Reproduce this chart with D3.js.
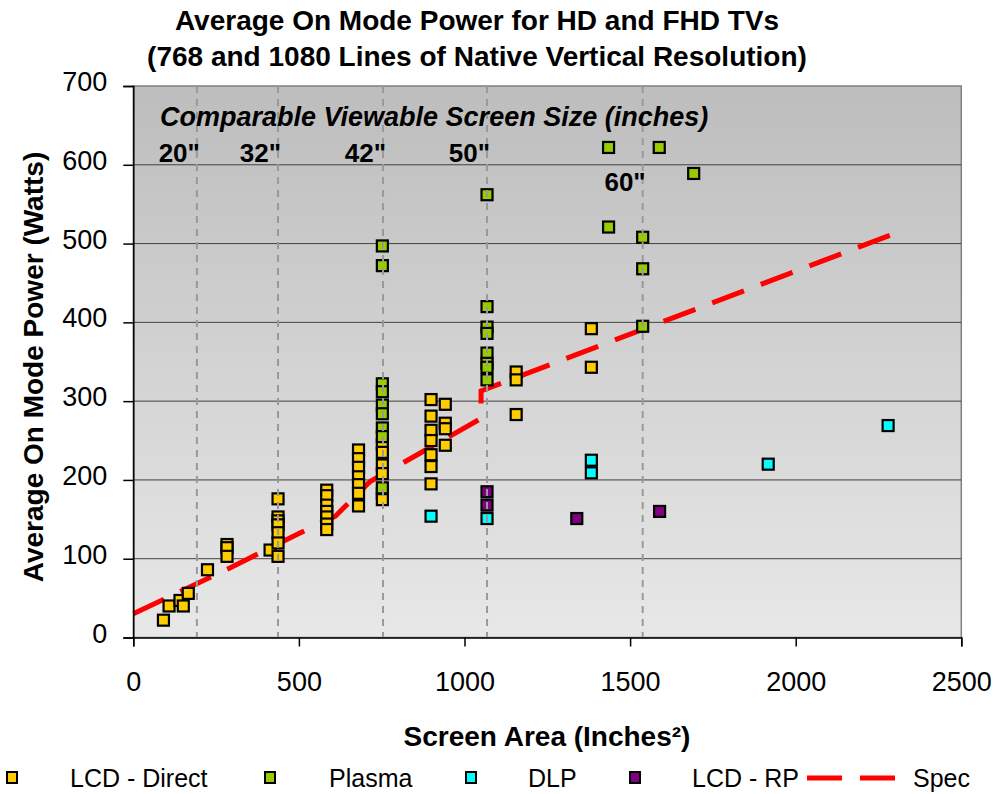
<!DOCTYPE html>
<html>
<head>
<meta charset="utf-8">
<script src="https://cdn.jsdelivr.net/npm/d3@7"></script>
<style>
  body { margin: 0; background: #fff; }
  svg { font-family: "Liberation Sans", Arial, sans-serif; }
</style>
</head>
<body>
<svg id="chart" width="999" height="794"></svg>
<script>
// screen area (in^2) -> on mode power (W)
const lcdDirect = [
  [91, 22], [108, 40], [141, 47], [151, 40], [166, 56], [224, 86],
  [283, 118], [283, 114], [283, 103],
  [413, 111],
  [437, 176], [437, 153], [437, 148], [437, 143], [437, 133], [437, 120], [437, 103],
  [584, 187], [584, 180], [584, 168], [584, 160], [584, 153], [584, 144], [584, 137],
  [680, 238], [680, 227], [680, 216], [680, 204], [680, 194], [680, 183], [680, 167],
  [752, 245], [752, 235], [752, 219], [752, 208], [752, 183], [752, 175],
  [899, 302], [899, 281], [899, 263], [899, 250], [899, 232], [899, 217], [899, 195],
  [942, 296], [942, 272], [942, 265], [942, 244],
  [1156, 337], [1156, 327], [1156, 283],
  [1383, 392], [1383, 343]
];
const plasma = [
  [752, 497], [752, 472], [752, 322], [752, 312], [752, 295], [752, 284], [752, 266], [752, 255], [752, 190],
  [1068, 562], [1068, 420], [1068, 394], [1068, 386], [1068, 361], [1068, 348], [1068, 343], [1068, 327],
  [1435, 622], [1435, 521],
  [1538, 508], [1538, 468], [1538, 395],
  [1588, 622], [1692, 589]
];
const dlp = [[899, 154], [1068, 151], [1383, 225], [1383, 209], [1917, 220], [2279, 269]];
const lcdRp = [[1068, 185], [1068, 168], [1339, 151], [1589, 160]];
const spec = [[0, 30], [290, 88], [500, 132], [610, 154], [715, 198], [1050, 278], [1050, 313], [2325, 517]];

const sizeLines = [192, 437, 754, 1068, 1538];
const sizeLabels = ['20"', '32"', '42"', '50"', '60"'];
const xTicks = [0, 500, 1000, 1500, 2000, 2500];
const yTicks = [0, 100, 200, 300, 400, 500, 600, 700];

const series = [
  { name: "LCD - Direct", data: lcdDirect, color: "#ffcc00" },
  { name: "Plasma", data: plasma, color: "#99cc00" },
  { name: "DLP", data: dlp, color: "#00ffff" },
  { name: "LCD - RP", data: lcdRp, color: "#800080" }
];

const svg = d3.select("#chart");
const x = d3.scaleLinear().domain([0, 2500]).range([133.3, 961.3]);
const y = d3.scaleLinear().domain([0, 700]).range([637.5, 86]);

// plot background gradient
const grad = svg.append("defs").append("linearGradient")
  .attr("id", "bg").attr("x1", 0).attr("y1", 0).attr("x2", 0).attr("y2", 1);
grad.append("stop").attr("offset", "0%").attr("stop-color", "#bdbdbd");
grad.append("stop").attr("offset", "100%").attr("stop-color", "#e8e8e8");

svg.append("rect")
  .attr("x", x(0)).attr("y", y(700))
  .attr("width", x(2500) - x(0)).attr("height", y(0) - y(700))
  .attr("fill", "url(#bg)").attr("stroke", "#808080").attr("stroke-width", 1.5);

// horizontal gridlines
svg.append("g").selectAll("line")
  .data(yTicks.filter(d => d > 0 && d < 700))
  .join("line")
  .attr("x1", x(0)).attr("x2", x(2500))
  .attr("y1", d => y(d)).attr("y2", d => y(d))
  .attr("stroke", "#404040").attr("stroke-width", 1);

// spec line
const line = d3.line().x(d => x(d[0])).y(d => y(d[1]));
svg.append("path")
  .datum(spec)
  .attr("d", line)
  .attr("fill", "none")
  .attr("stroke", "#ff0000")
  .attr("stroke-width", 5)
  .attr("stroke-dasharray", "34,18");

// markers
const ms = 11;
series.forEach(s => {
  svg.append("g").selectAll("rect")
    .data(s.data)
    .join("rect")
    .attr("x", d => x(d[0]) - ms / 2)
    .attr("y", d => y(d[1]) - ms / 2)
    .attr("width", ms).attr("height", ms)
    .attr("fill", s.color)
    .attr("stroke", "#000").attr("stroke-width", 2.2);
});

// comparable screen size lines
svg.append("g").selectAll("line")
  .data(sizeLines)
  .join("line")
  .attr("x1", d => x(d)).attr("x2", d => x(d))
  .attr("y1", y(700)).attr("y2", y(0))
  .attr("stroke", "#999").attr("stroke-width", 2)
  .attr("stroke-dasharray", "7,6");

svg.append("text")
  .attr("x", 160).attr("y", 126)
  .attr("font-size", 27).attr("font-weight", "bold").attr("font-style", "italic")
  .text("Comparable Viewable Screen Size (inches)");

svg.append("g").selectAll("text")
  .data(sizeLabels)
  .join("text")
  .attr("x", (d, i) => x(sizeLines[i]) + 3)
  .attr("y", (d, i) => i === 4 ? 191 : 162)
  .attr("text-anchor", "end")
  .attr("font-size", 26).attr("font-weight", "bold")
  .text(d => d);

// axes
const yAxis = svg.append("g")
  .attr("transform", `translate(${x(0)},0)`)
  .call(d3.axisLeft(y).tickValues(yTicks).tickSize(10).tickPadding(16).tickFormat(d3.format("d")));
yAxis.selectAll("text").attr("font-size", 27).attr("dy", "0.32em").attr("y", -4)
  .attr("font-family", "Liberation Sans, Arial, sans-serif");

const xAxis = svg.append("g")
  .attr("transform", `translate(0,${y(0)})`)
  .call(d3.axisBottom(x).tickValues(xTicks).tickSize(9).tickFormat(d3.format("d")));
xAxis.selectAll("text").attr("font-size", 27).attr("dy", 0).attr("y", 53.5)
  .attr("font-family", "Liberation Sans, Arial, sans-serif");

[yAxis, xAxis].forEach(a => {
  a.select(".domain").attr("stroke", "#000").attr("stroke-width", 1.5);
  a.selectAll(".tick line").attr("stroke", "#000").attr("stroke-width", 1.5);
  a.selectAll("text").attr("fill", "#000");
});

// titles
svg.append("text")
  .attr("x", 477).attr("y", 30).attr("text-anchor", "middle")
  .attr("font-size", 28).attr("font-weight", "bold")
  .text("Average On Mode Power for HD and FHD TVs");
svg.append("text")
  .attr("x", 477).attr("y", 66).attr("text-anchor", "middle")
  .attr("font-size", 28).attr("font-weight", "bold")
  .text("(768 and 1080 Lines of Native Vertical Resolution)");

svg.append("text")
  .attr("transform", "translate(43,367) rotate(-90)")
  .attr("text-anchor", "middle")
  .attr("font-size", 28).attr("font-weight", "bold")
  .text("Average On Mode Power (Watts)");

svg.append("text")
  .attr("x", 547).attr("y", 746).attr("text-anchor", "middle")
  .attr("font-size", 28).attr("font-weight", "bold")
  .text("Screen Area (Inches²)");

// legend
const legendX = [12, 270, 471, 635];
const legendTextX = [70, 329, 528, 692];
const lg = svg.append("g");
series.forEach((s, i) => {
  lg.append("rect")
    .attr("x", legendX[i] - 5).attr("y", 772)
    .attr("width", 10).attr("height", 11)
    .attr("fill", s.color).attr("stroke", "#000").attr("stroke-width", 2);
  lg.append("text")
    .attr("x", legendTextX[i]).attr("y", 787)
    .attr("font-size", 25)
    .text(s.name);
});
lg.append("line")
  .attr("x1", 807).attr("x2", 897).attr("y1", 778).attr("y2", 778)
  .attr("stroke", "#ff0000").attr("stroke-width", 5).attr("stroke-dasharray", "35,18");
lg.append("text")
  .attr("x", 913).attr("y", 787).attr("font-size", 25).text("Spec");
</script>
</body>
</html>
